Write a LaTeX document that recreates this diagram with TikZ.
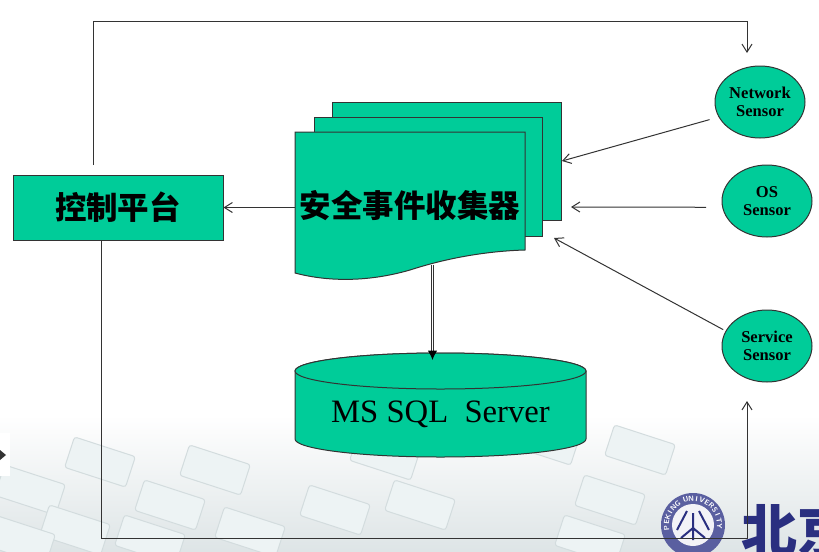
\documentclass[tikz,border=0pt]{standalone}
\usepackage{fontspec}
\setmainfont{Liberation Serif}
\newfontfamily\cjk{Noto Sans CJK SC}
\usetikzlibrary{arrows.meta,shapes.geometric}
\definecolor{boxgreen}{HTML}{00CC99}
\definecolor{linegray}{HTML}{333333}
\definecolor{bgkey}{HTML}{EDF3F4}
\definecolor{bgline}{HTML}{D3DCDE}
\definecolor{pkublue}{HTML}{2A2F80}
\definecolor{pkuring}{HTML}{5A5FA0}
\tikzset{every picture/.style={line width=0.75pt}}
\tikzset{
  shapebox/.style={draw=linegray,fill=boxgreen,inner sep=0pt},
  sheetbox/.style={shapebox,anchor=center},
  sensor/.style={ellipse,draw=linegray,fill=boxgreen,inner sep=0pt,minimum width=67.5pt,minimum height=54pt,align=center,font=\fontsize{12.4}{13.6}\selectfont\bfseries},
  cjktext/.style={font=\cjk\fontsize{23.6}{28}\selectfont\bfseries},
  link/.style={draw=linegray,-{Straight Barb[length=6pt,width=7.5pt]}},
  plainkey/.style={fill=bgkey,draw=bgline,rounded corners=2pt,rotate=-18}
}
\begin{document}
\begin{tikzpicture}[x=0.75pt,y=0.75pt,yscale=-1,xscale=1]
\useasboundingbox (0,0) rectangle (819,551);
% background
\shade[top color=white,bottom color=bgline!75] (0,415) rectangle (819,551);
\foreach \kx/\ky in {30/490,75/530,100/462,170/505,215/470,250/532,335/510,385/455,420/505,545/440,610/500,590/540,640/450,20/540,150/540}{
  \node[plainkey,minimum width=48pt,minimum height=24pt] (key\kx) at (\kx,\ky) {};
}
% slide marker
\fill[white] (0,433) rectangle (10,476);
\fill[black!80] (0,450) -- (6,455) -- (0,460) -- cycle;
% logo
\fill[pkuring] (693,525) circle (32);
\fill[white!92!pkuring] (693,525) circle (21);
\foreach \a/\c in {-96/P,-84/E,-72/K,-60/I,-48/N,-36/G,-16/U,-4/N,8/I,20/V,32/E,44/R,56/S,68/I,80/T,92/Y}{
  \node[text=white,inner sep=0pt,rotate=-\a,font=\sffamily\fontsize{5.5}{6}\selectfont\bfseries] (seal\a) at ({693+26.5*sin(\a)},{525-26.5*cos(\a)}) {\c};
}
\draw[pkublue,line width=1.5pt] (693,513) -- (693,540) (687,511) -- (677,530) (699,511) -- (709,530) (693,528) -- (681,538) (693,528) -- (705,538);
\begin{scope}
\clip (730,395) rectangle (819,551);
\node[text=pkublue,anchor=west,inner sep=0pt,font=\cjk\fontsize{42}{44}\selectfont\bfseries] (logotext) at (741,530) {北京大学};
\end{scope}
% sheets
\node[sheetbox,minimum width=172.1pt,minimum height=88.5pt] (sheetback) at (446.75,161) {};
\node[sheetbox,minimum width=171pt,minimum height=89.25pt] (sheetmid) at (428,176.5) {};
\draw[shapebox] (295,132) -- (525,132) -- (525,250) .. controls (490,251) and (450,257) .. (410,270) .. controls (365,283) and (325,281) .. (295,273) -- cycle;
\node[inner sep=0pt,minimum width=172.5pt,minimum height=110.25pt,cjktext] (collector) at (410,205.5) {安全事件收集器};
% control
\node[sheetbox,minimum width=157.5pt,minimum height=48.75pt,cjktext] (control) at (118,207.5) {控制平台};
% sensors
\node[sensor] (network) at (760,102) {Network\\Sensor};
\node[sensor] (os) at (767,201) {OS\\Sensor};
\node[sensor] (service) at (767,346) {Service\\Sensor};
% database
\draw[shapebox] (295,371) arc[start angle=180,end angle=360,x radius=145.5,y radius=18] -- (586,439) arc[start angle=0,end angle=180,x radius=145.5,y radius=18] -- cycle;
\draw[shapebox] (440.5,371) ellipse [x radius=145.5,y radius=18];
\node[inner sep=0pt,minimum width=218.25pt,minimum height=64.5pt,font=\fontsize{24.5}{28}\selectfont] (db) at (440.5,414) {MS SQL\ \ Server};
% free ends
\coordinate (ctrltop) at (93,165);
\coordinate (nettop) at (747,53);
\coordinate (ctrlbot) at (101,240);
\coordinate (srvbot) at (747,401);
\coordinate (osin) at (571,207);
\coordinate (srvin) at (554,238);
\coordinate (colout) at (432.5,265);
\coordinate (dbin) at (432.5,360);
% connectors
\draw[link,shorten <=7pt] (network.200) -- (sheetback.east);
\draw[link,shorten <=12pt] (os.188) -- (osin);
\draw[link,shorten <=2pt] (service.160) -- (srvin);
\draw[link] (collector.west |- control.east) -- (control.east);
\draw[link] (ctrltop) -- ++(0,-144) -| (nettop);
\draw[link] (ctrlbot) -- ++(0,298) -| (srvbot);
\draw[draw=linegray,double=white,double distance=1pt,-{Latex[length=7pt,width=7pt,black]}] (colout) -- (dbin);
\end{tikzpicture}
\end{document}
